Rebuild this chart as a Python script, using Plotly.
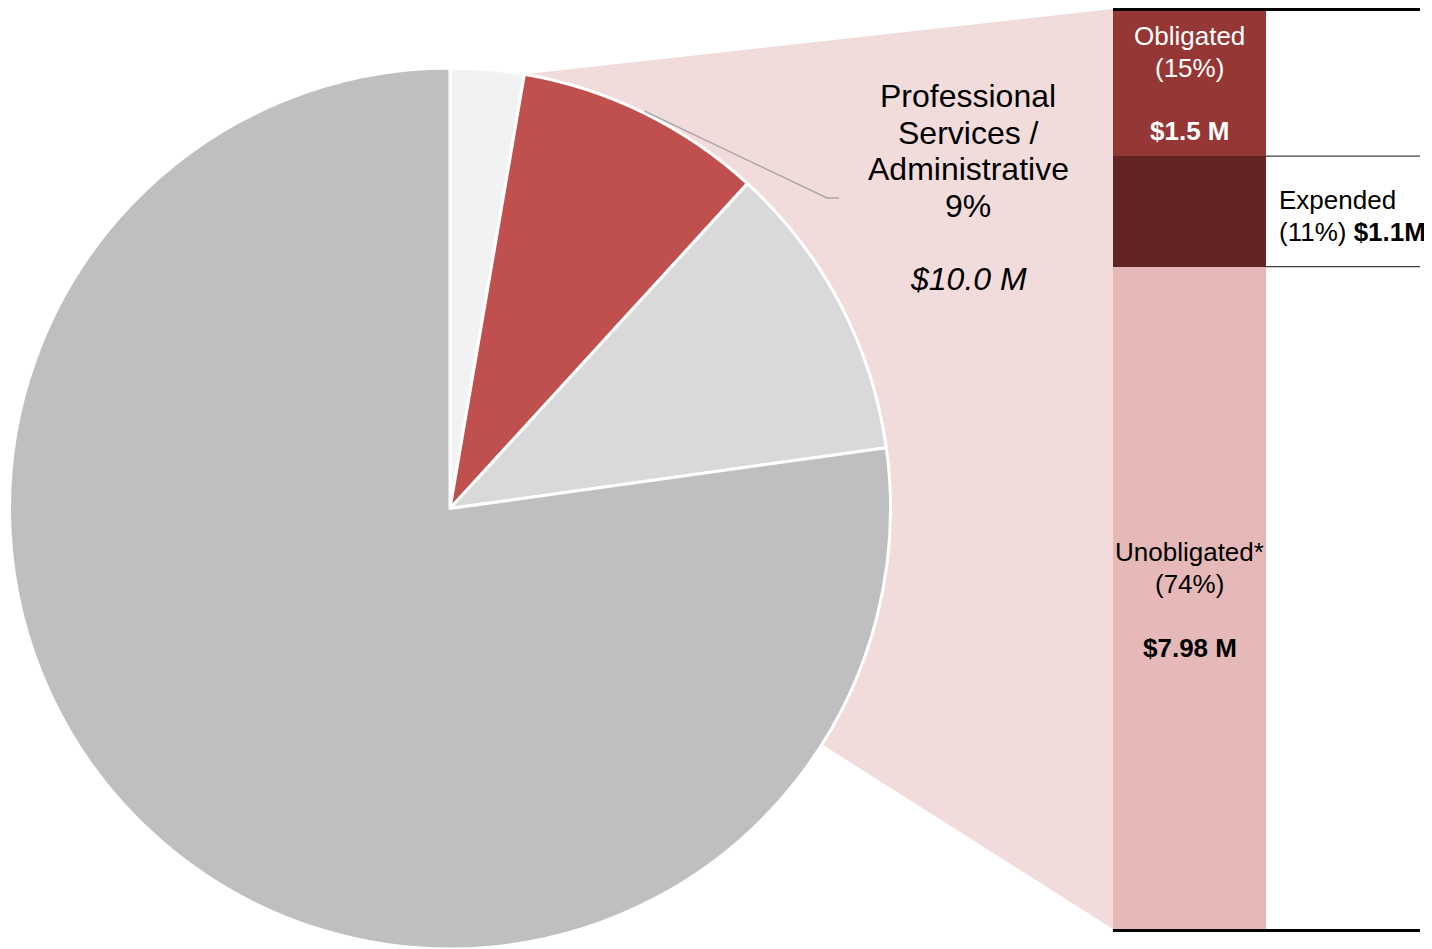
import math
import plotly.graph_objects as go

# ---------------- data ----------------
pie_labels = ["Other (small)", "Professional Services / Administrative", "Other (medium)", "Other (large)"]
pie_values = [2.7, 9.1, 11.0, 77.2]
pie_colors = ["#F2F2F2", "#C0504D", "#D9D9D9", "#BFBFBF"]

# stacked bar, bottom to top
bar_categories = ["Unobligated*", "Expended", "Obligated"]
bar_heights = [72, 12, 16]          # drawn segment heights
bar_share_labels = ["74%", "11%", "15%"]
bar_amount_labels = ["$7.98 M", "$1.1M", "$1.5 M"]
bar_colors = ["#E6B9B8", "#632523", "#953735"]

focus_label_lines = ["Professional", "Services /", "Administrative", "9%"]
focus_amount = "$10.0 M"

# ---------------- layout geometry ----------------
# page has an 8px body margin; figure placed at (8, 8)
OFF = 8
W, H = 1424, 941
FONT = "Liberation Sans, Arial, sans-serif"


def P(xp, yp):
    """page pixel -> paper coords"""
    return (xp - OFF) / W, 1 - (yp - OFF) / H


pie_dom_x = [P(9, 0)[0], P(891, 0)[0]]
pie_dom_y = [0.0, P(0, 68)[1]]
bar_dom_x = [P(1113, 0)[0], P(1266, 0)[0]]
bar_dom_y = [P(0, 929)[1], P(0, 9)[1]]

# pie geometry in page pixels (as plotly computes it)
cx = OFF + W * (pie_dom_x[0] + pie_dom_x[1]) / 2
cy = OFF + H * (1 - (pie_dom_y[0] + pie_dom_y[1]) / 2)
r = min(W * (pie_dom_x[1] - pie_dom_x[0]), H * (pie_dom_y[1] - pie_dom_y[0])) / 2
total = sum(pie_values)


def pie_point(frac, rr):
    th = 2 * math.pi * frac
    return cx + rr * math.sin(th), cy - rr * math.cos(th)


red_start = pie_point(pie_values[0] / total, r)
red_mid = pie_point((pie_values[0] + pie_values[1] / 2) / total, r + 2)

fig = go.Figure()

fig.add_trace(go.Pie(
    labels=pie_labels, values=pie_values, sort=False, direction="clockwise", rotation=0,
    marker=dict(colors=pie_colors, line=dict(color="white", width=3)),
    textinfo="none", showlegend=False, hoverinfo="label+percent",
    domain=dict(x=pie_dom_x, y=pie_dom_y),
))

for cat, h, col in zip(bar_categories, bar_heights, bar_colors):
    fig.add_trace(go.Bar(
        x=[0], y=[h], name=cat, width=1, marker=dict(color=col, line=dict(width=0)),
        showlegend=False, hoverinfo="name",
    ))

shapes = []
# connector polygon
pts = [P(cx, cy), P(*red_start),
       (bar_dom_x[0], bar_dom_y[1]), (bar_dom_x[0], bar_dom_y[0])]
path = "M " + " L ".join(f"{x:.5f},{y:.5f}" for x, y in pts) + " Z"
shapes.append(dict(type="path", path=path, xref="paper", yref="paper",
                   fillcolor="#F2DCDB", line=dict(width=0), layer="below"))

line_right = P(1420, 0)[0]
total_h = sum(bar_heights)


def bar_paper_y(v):
    return bar_dom_y[0] + (bar_dom_y[1] - bar_dom_y[0]) * v / total_h


cum = 0
bounds = []
for h in bar_heights:
    cum += h
    bounds.append(cum)
# top and bottom black lines (paper refs so they are not clipped by the axis)
shapes.append(dict(type="line", xref="paper", yref="paper", x0=bar_dom_x[0], x1=line_right,
                   y0=P(0, 9.5)[1], y1=P(0, 9.5)[1], line=dict(color="black", width=3)))
shapes.append(dict(type="line", xref="paper", yref="paper", x0=bar_dom_x[0], x1=line_right,
                   y0=P(0, 930.5)[1], y1=P(0, 930.5)[1], line=dict(color="black", width=3)))
# thin separators
for b in bounds[:-1]:
    yy = bar_paper_y(b)
    shapes.append(dict(type="line", xref="paper", yref="paper", x0=bar_dom_x[1], x1=line_right,
                       y0=yy, y1=yy, line=dict(color="#404040", width=1.2)))

# leader line
p0 = P(*red_mid)
p1 = P(827, 198)
p2 = P(839, 198)
shapes.append(dict(type="path", xref="paper", yref="paper",
                   path=f"M {p0[0]:.5f},{p0[1]:.5f} L {p1[0]:.5f},{p1[1]:.5f} L {p2[0]:.5f},{p2[1]:.5f}",
                   line=dict(color="#A6A6A6", width=1.5)))

annotations = []
# focus label
for txt, yy in zip(focus_label_lines, [96, 133, 169, 206]):
    x, y = P(968, yy)
    annotations.append(dict(text=txt, x=x, y=y, xref="paper", yref="paper",
                            showarrow=False, xanchor="center", yanchor="middle",
                            font=dict(family=FONT, size=32, color="black")))
x, y = P(968, 279)
annotations.append(dict(text=f"<i>{focus_amount}</i>", x=x, y=y, xref="paper", yref="paper",
                        showarrow=False, xanchor="center", yanchor="middle",
                        font=dict(family=FONT, size=32, color="black")))

# bar labels
lo = 0
centers = []
for h in bar_heights:
    centers.append(lo + h / 2)
    lo += h

# Obligated (top, white text inside)
i = 2
for txt, sh in [(bar_categories[i], 47), (f"({bar_share_labels[i]})", 15), (f"<b>{bar_amount_labels[i]}</b>", -48)]:
    annotations.append(dict(text=txt, x=0, y=centers[i], xref="x", yref="y", yshift=sh,
                            showarrow=False, xanchor="center", yanchor="middle",
                            font=dict(family=FONT, size=26, color="white")))
# Unobligated (bottom, black text inside)
i = 0
for txt, sh in [(bar_categories[i], 46), (f"({bar_share_labels[i]})", 14), (f"<b>{bar_amount_labels[i]}</b>", -50)]:
    annotations.append(dict(text=txt, x=0, y=centers[i], xref="x", yref="y", yshift=sh,
                            showarrow=False, xanchor="center", yanchor="middle",
                            font=dict(family=FONT, size=26, color="black")))
# Expended (outside to the right)
i = 1
for txt, sh in [(bar_categories[i], 11), (f"({bar_share_labels[i]}) <b>{bar_amount_labels[i]}</b>", -21)]:
    annotations.append(dict(text=txt, x=P(1277, 0)[0], y=centers[i], xref="paper", yref="y", yshift=sh,
                            showarrow=False, xanchor="left", yanchor="middle",
                            font=dict(family=FONT, size=26, color="black")))

fig.update_layout(
    width=W, height=H, margin=dict(l=0, r=0, t=0, b=0),
    paper_bgcolor="white", plot_bgcolor="rgba(0,0,0,0)",
    barmode="stack", bargap=0,
    xaxis=dict(domain=bar_dom_x, range=[-0.5, 0.5], visible=False, fixedrange=True),
    yaxis=dict(domain=bar_dom_y, range=[0, total_h], visible=False, fixedrange=True),
    shapes=shapes, annotations=annotations,
    font=dict(family=FONT),
)

fig.write_html("out.html")
